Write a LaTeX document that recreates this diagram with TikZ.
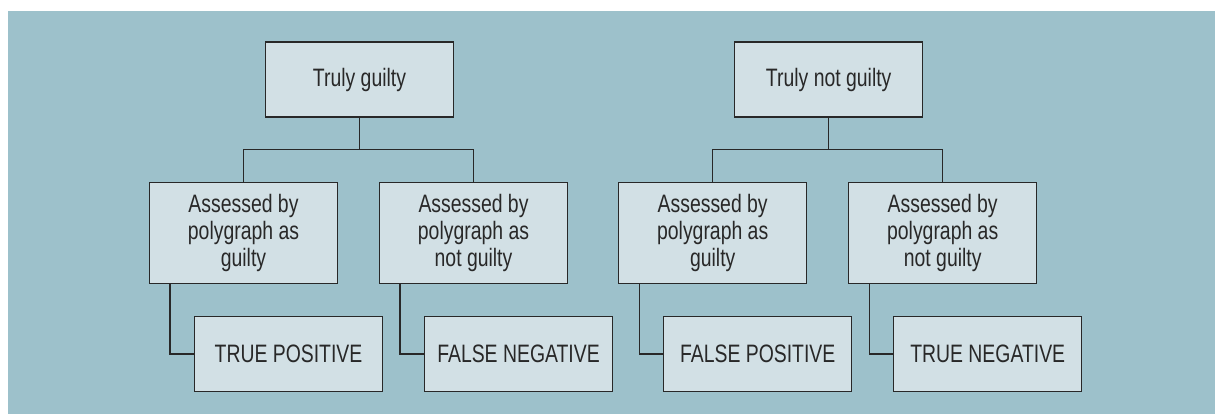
\documentclass[tikz,border=0pt]{standalone}
\usepackage{fontspec}
\setmainfont[FakeStretch=0.77]{Liberation Sans}
\usetikzlibrary{positioning}

\definecolor{bgcolor}{RGB}{157,193,203}
\definecolor{boxcolor}{RGB}{210,224,229}
\definecolor{linecolor}{RGB}{40,40,40}

\begin{document}
\begin{tikzpicture}[line width=0.6pt, draw=linecolor,
	main/.style = {draw=linecolor, fill=boxcolor, text=linecolor, align=center, minimum width=94pt, inner sep=2pt, font=\fontsize{12.6}{13.5}\selectfont},
	top/.style = {main, minimum height=37.5pt},
	mid/.style = {main, minimum height=50.5pt},
	result/.style = {main, minimum height=37.5pt}]
		\useasboundingbox (0,0) rectangle (607.5pt,-207pt);
		\fill[bgcolor] (4pt,-5.5pt) rectangle (607.5pt,-207pt);

		\node[top] (Guilty) at (179.75pt,-39.75pt) {Truly guilty};
		\node[top] (NotGuilty) [right=140pt of Guilty] {Truly not guilty};

		\node[mid] (GuiltyG) [below=32pt of Guilty, xshift=-58pt] {Assessed by\\polygraph as\\guilty};
		\node[mid] (GuiltyN) [below=32pt of Guilty, xshift=57pt] {Assessed by\\polygraph as\\not guilty};
		\node[mid] (NotGuiltyG) [below=32pt of NotGuilty, xshift=-58pt] {Assessed by\\polygraph as\\guilty};
		\node[mid] (NotGuiltyN) [below=32pt of NotGuilty, xshift=57pt] {Assessed by\\polygraph as\\not guilty};

		\node[result] (TP) [below right=16pt and 22.5pt of GuiltyG.south west] {TRUE POSITIVE};
		\node[result] (FN) [below right=16pt and 22.5pt of GuiltyN.south west] {FALSE NEGATIVE};
		\node[result] (FP) [below right=16pt and 22.5pt of NotGuiltyG.south west] {FALSE POSITIVE};
		\node[result] (TN) [below right=16pt and 22.5pt of NotGuiltyN.south west] {TRUE NEGATIVE};

		\draw (Guilty.south) -- ++(0,-16pt) -| (GuiltyG.north);
		\draw (Guilty.south) -- ++(0,-16pt) -| (GuiltyN.north);
		\draw (NotGuilty.south) -- ++(0,-16pt) -| (NotGuiltyG.north);
		\draw (NotGuilty.south) -- ++(0,-16pt) -| (NotGuiltyN.north);

		\draw ([xshift=10.5pt]GuiltyG.south west) |- (TP.west);
		\draw ([xshift=10.5pt]GuiltyN.south west) |- (FN.west);
		\draw ([xshift=10.5pt]NotGuiltyG.south west) |- (FP.west);
		\draw ([xshift=10.5pt]NotGuiltyN.south west) |- (TN.west);
	\end{tikzpicture}
\end{document}
